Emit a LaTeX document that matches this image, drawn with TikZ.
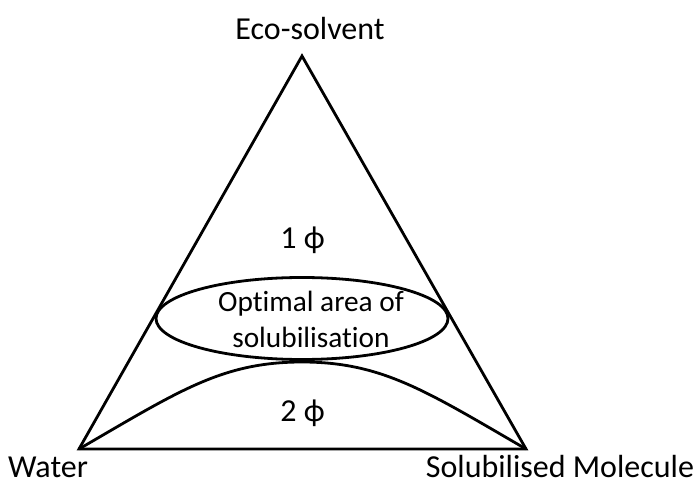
\documentclass[tikz,border=0pt]{standalone}
\usepackage{fontspec}
\setmainfont[Ligatures=NoCommon]{Carlito}
\begin{document}
\begin{tikzpicture}[x=0.75pt,y=-0.75pt,
  lbl/.style={font=\fontsize{24}{28}\selectfont, inner sep=0pt, anchor=base},
  inlbl/.style={font=\fontsize{22}{27}\selectfont, inner sep=0pt, anchor=base},
  edge/.style={line width=2.1pt, line join=miter}]
\useasboundingbox (0,0) rectangle (697,485);
\coordinate (top) at (302,56);
\coordinate (bl) at (79,449);
\coordinate (br) at (526,449);
\coordinate (peak) at (302,362);
\draw[edge] (top) -- (bl) -- (br) -- cycle;
\draw[edge] (bl) .. controls (179,391) and (222,362) .. (peak)
  .. controls (382,362) and (426,391) .. (br);
\draw[edge] (302,318.5) ellipse [x radius=146, y radius=41];
\node[lbl] (eco) at (310,40) {Eco-solvent};
\node[lbl] (one) at (302.5,248) {1 ϕ};
\node[inlbl] (opt1) at (311,311) {Optimal area of};
\node[inlbl] (opt2) at (311,347) {solubilisation};
\node[lbl] (two) at (302.5,421) {2 ϕ};
\node[lbl] (water) at (48,477) {Water};
\node[lbl] (sol) at (560,477) {Solubilised Molecule};
\end{tikzpicture}
\end{document}
